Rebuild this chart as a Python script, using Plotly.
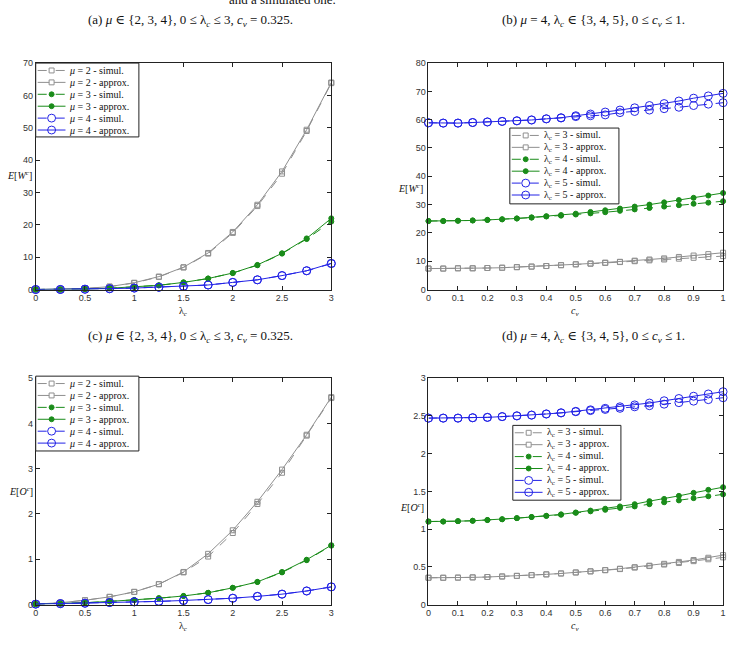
import plotly.graph_objects as go

W, H = 734, 645

# ---------------- data ----------------
lam = [0, 0.25, 0.5, 0.75, 1, 1.25, 1.5, 1.75, 2, 2.25, 2.5, 2.75, 3]
cv = [0, 0.05, 0.1, 0.15, 0.2, 0.25, 0.3, 0.35, 0.4, 0.45, 0.5,
      0.55, 0.6, 0.65, 0.7, 0.75, 0.8, 0.85, 0.9, 0.95, 1]

# (a) E[W^c] vs lambda_c
a_mu2_sim = [0, 0.05, 0.3, 0.9, 2.0, 3.9, 6.8, 11.1, 17.5, 25.8, 35.8, 49.0, 63.8]
a_mu2_app = [0, 0.05, 0.3, 0.9, 2.1, 4.0, 6.9, 11.3, 17.8, 26.2, 36.5, 49.4, 64.0]
a_mu3_sim = [0, 0.02, 0.15, 0.4, 0.8, 1.3, 2.2, 3.4, 5.1, 7.5, 11.1, 15.6, 21.0]
a_mu3_app = [0, 0.02, 0.15, 0.4, 0.8, 1.3, 2.2, 3.4, 5.1, 7.6, 11.2, 15.8, 22.0]
a_mu4_sim = [0, 0.02, 0.1, 0.25, 0.45, 0.7, 1.0, 1.4, 2.2, 3.0, 4.3, 5.8, 8.0]
a_mu4_app = [0, 0.02, 0.1, 0.25, 0.45, 0.7, 1.0, 1.4, 2.2, 3.0, 4.3, 5.8, 8.1]

# (b) E[W^c] vs c_v
b_l3_sim = [7.4, 7.4, 7.5, 7.5, 7.6, 7.7, 7.9, 8.1, 8.3, 8.6, 8.9,
            9.1, 9.4, 9.7, 10.0, 10.3, 10.6, 10.9, 11.2, 11.5, 11.8]
b_l3_app = [7.4, 7.4, 7.5, 7.5, 7.6, 7.7, 7.9, 8.1, 8.3, 8.6, 8.9,
            9.2, 9.5, 9.8, 10.2, 10.6, 11.0, 11.5, 12.0, 12.5, 13.0]
b_l4_sim = [24.2, 24.2, 24.3, 24.4, 24.6, 24.8, 25.1, 25.4, 25.8, 26.1, 26.5,
            26.9, 27.3, 27.8, 28.3, 28.8, 29.3, 29.8, 30.3, 30.7, 31.2]
b_l4_app = [24.2, 24.2, 24.3, 24.4, 24.6, 24.8, 25.1, 25.5, 25.9, 26.3, 26.8,
            27.4, 28.0, 28.6, 29.3, 30.0, 30.8, 31.6, 32.4, 33.2, 34.1]
b_l5_sim = [58.9, 58.8, 58.8, 59.0, 59.2, 59.4, 59.6, 59.9, 60.3, 60.6, 61.1,
            61.4, 61.7, 62.5, 62.9, 63.4, 63.9, 64.4, 65.0, 65.5, 66.0]
b_l5_app = [58.9, 58.8, 58.8, 59.0, 59.2, 59.4, 59.6, 59.9, 60.3, 60.7, 61.4,
            62.0, 62.7, 63.4, 64.2, 65.0, 65.7, 66.6, 67.6, 68.4, 69.3]

# (c) E[O^c] vs lambda_c
c_mu2_sim = [0.01, 0.04, 0.095, 0.17, 0.28, 0.45, 0.71, 1.06, 1.58, 2.22, 2.91, 3.73, 4.56]
c_mu2_app = [0.01, 0.04, 0.095, 0.17, 0.28, 0.45, 0.72, 1.12, 1.64, 2.27, 2.98, 3.75, 4.58]
c_mu3_sim = [0.01, 0.02, 0.04, 0.07, 0.10, 0.14, 0.19, 0.26, 0.37, 0.50, 0.71, 0.98, 1.30]
c_mu3_app = [0.01, 0.02, 0.04, 0.07, 0.10, 0.14, 0.19, 0.26, 0.37, 0.50, 0.72, 0.99, 1.31]
c_mu4_sim = [0.01, 0.02, 0.03, 0.045, 0.06, 0.07, 0.09, 0.11, 0.14, 0.18, 0.23, 0.30, 0.39]
c_mu4_app = [0.01, 0.02, 0.03, 0.045, 0.06, 0.07, 0.09, 0.11, 0.14, 0.18, 0.23, 0.30, 0.39]

# (d) E[O^c] vs c_v
d_l3_sim = [0.355, 0.355, 0.357, 0.36, 0.365, 0.372, 0.38, 0.39, 0.40, 0.412, 0.425,
            0.44, 0.455, 0.47, 0.49, 0.51, 0.53, 0.55, 0.575, 0.60, 0.625]
d_l3_app = [0.355, 0.355, 0.357, 0.36, 0.365, 0.372, 0.38, 0.39, 0.40, 0.412, 0.425,
            0.44, 0.457, 0.475, 0.495, 0.515, 0.54, 0.565, 0.59, 0.62, 0.655]
d_l4_sim = [1.10, 1.10, 1.105, 1.11, 1.12, 1.13, 1.145, 1.16, 1.175, 1.19, 1.215,
            1.235, 1.255, 1.28, 1.30, 1.33, 1.355, 1.38, 1.41, 1.435, 1.46]
d_l4_app = [1.10, 1.10, 1.105, 1.11, 1.12, 1.13, 1.145, 1.16, 1.175, 1.195, 1.22,
            1.245, 1.27, 1.30, 1.33, 1.37, 1.40, 1.44, 1.48, 1.52, 1.555]
d_l5_sim = [2.47, 2.47, 2.47, 2.475, 2.48, 2.49, 2.50, 2.51, 2.525, 2.54, 2.555,
            2.57, 2.585, 2.60, 2.62, 2.635, 2.655, 2.675, 2.695, 2.715, 2.74]
d_l5_app = [2.47, 2.47, 2.47, 2.475, 2.48, 2.49, 2.50, 2.51, 2.525, 2.54, 2.56,
            2.58, 2.60, 2.62, 2.645, 2.67, 2.70, 2.73, 2.76, 2.79, 2.82]

leg_a = ["<i>μ</i> = 2 - simul.", "<i>μ</i> = 2 - approx.", "<i>μ</i> = 3 - simul.",
         "<i>μ</i> = 3 - approx.", "<i>μ</i> = 4 - simul.", "<i>μ</i> = 4 - approx."]
leg_b = ["λ<sub>c</sub> = 3 - simul.", "λ<sub>c</sub> = 3 - approx.", "λ<sub>c</sub> = 4 - simul.",
         "λ<sub>c</sub> = 4 - approx.", "λ<sub>c</sub> = 5 - simul.", "λ<sub>c</sub> = 5 - approx."]

# ---------------- styles ----------------
GRAY = "#8f8f8f"
GREEN = "#1a8c1a"
BLUE = "#2323e6"
STY = [
    (GRAY, "dash", "square-open", 5),
    (GRAY, "solid", "square-open", 5),
    (GREEN, "dash", "circle", 5),
    (GREEN, "solid", "circle", 5),
    (BLUE, "dash", "circle-open", 8),
    (BLUE, "solid", "circle-open", 8),
]

def X(px):
    return px / W

def Y(py):
    return 1 - py / H

fig = go.Figure()

panels = [
    ("x", "y", lam, [a_mu2_sim, a_mu2_app, a_mu3_sim, a_mu3_app, a_mu4_sim, a_mu4_app]),
    ("x2", "y2", cv, [b_l3_sim, b_l3_app, b_l4_sim, b_l4_app, b_l5_sim, b_l5_app]),
    ("x3", "y3", lam, [c_mu2_sim, c_mu2_app, c_mu3_sim, c_mu3_app, c_mu4_sim, c_mu4_app]),
    ("x4", "y4", cv, [d_l3_sim, d_l3_app, d_l4_sim, d_l4_app, d_l5_sim, d_l5_app]),
]
for xa, ya, xs, series in panels:
    for (col, dash, sym, sz), ys in zip(STY, series):
        fig.add_trace(go.Scatter(
            x=xs, y=ys, xaxis=xa, yaxis=ya, mode="lines+markers",
            line=dict(color=col, width=1, dash=dash),
            marker=dict(symbol=sym, size=sz, color=col, line=dict(color=col, width=1)),
            cliponaxis=False, showlegend=False, hoverinfo="skip"))

tickfont = dict(family="Liberation Sans, Arial", size=9, color="#333")
def ax(domain, rng, dtick):
    return dict(domain=domain, range=rng, dtick=dtick, tick0=0, showgrid=False, zeroline=False,
                showline=True, linecolor="#222", linewidth=1, mirror="ticks",
                ticks="inside", ticklen=4, tickcolor="#222", tickfont=tickfont)

xa_l = [X(33), X(331)]
xa_r = [X(429), X(726)]
ya_t = [Y(289), Y(59)]
ya_b = [Y(609), Y(379)]

fig.update_layout(
    width=W, height=H, margin=dict(l=0, r=0, t=0, b=0),
    paper_bgcolor="white", plot_bgcolor="white",
    xaxis=dict(**ax(xa_l, [0, 3], 0.5), anchor="y"),
    yaxis=dict(**ax(ya_t, [0, 70], 10), anchor="x"),
    xaxis2=dict(**ax(xa_r, [0, 1], 0.1), anchor="y2"),
    yaxis2=dict(**ax(ya_t, [0, 80], 10), anchor="x2"),
    xaxis3=dict(**ax(xa_l, [0, 3], 0.5), anchor="y3"),
    yaxis3=dict(**ax(ya_b, [0, 5], 1), anchor="x3"),
    xaxis4=dict(**ax(xa_r, [0, 1], 0.1), anchor="y4"),
    yaxis4=dict(**ax(ya_b, [0, 3], 0.5), anchor="x4"),
)

SERIF = "Liberation Serif, DejaVu Serif, serif"
anns = []
shapes = []

def text(px, py, s, size=10, anchor="center"):
    anns.append(dict(x=X(px), y=Y(py), xref="paper", yref="paper", text=s, showarrow=False,
                     xanchor=anchor, yanchor="middle",
                     font=dict(family=SERIF, size=size, color="#111")))

# truncated caption line at top
text(282, -6, "and a simulated one.", 13)

# titles
text(189, 16, "(a) <i>μ</i> ∈ {2, 3, 4}, 0 ≤ λ<sub><i>c</i></sub> ≤ 3, <i>c<sub>v</sub></i> = 0.325.", 13)
text(595, 16, "(b) <i>μ</i> = 4, λ<sub><i>c</i></sub> ∈ {3, 4, 5}, 0 ≤ <i>c<sub>v</sub></i> ≤ 1.", 13)
text(189, 337, "(c) <i>μ</i> ∈ {2, 3, 4}, 0 ≤ λ<sub><i>c</i></sub> ≤ 3, <i>c<sub>v</sub></i> = 0.325.", 13)
text(595, 337, "(d) <i>μ</i> = 4, λ<sub><i>c</i></sub> ∈ {3, 4, 5}, 0 ≤ <i>c<sub>v</sub></i> ≤ 1.", 13)

# axis titles
text(17, 173, "<i>E</i>[<i>W<sup>c</sup></i>]", 10)
text(411, 186, "<i>E</i>[<i>W<sup>c</sup></i>]", 10)
text(18, 494, "<i>E</i>[<i>O<sup>c</sup></i>]", 10)
text(412, 510, "<i>E</i>[<i>O<sup>c</sup></i>]", 10)
text(182, 311, "λ<sub><i>c</i></sub>", 10)
text(577, 311, "<i>c<sub>v</sub></i>", 10)
text(182, 631, "λ<sub><i>c</i></sub>", 10)
text(577, 631, "<i>c<sub>v</sub></i>", 10)

def legend(x0, y0, w, h, labels):
    shapes.append(dict(type="rect", xref="paper", yref="paper", x0=X(x0), x1=X(x0 + w),
                       y0=Y(y0), y1=Y(y0 + h), line=dict(color="#222", width=1),
                       fillcolor="white", layer="above"))
    for i, ((col, dash, sym, sz), lab) in enumerate(zip(STY, labels)):
        yc = y0 + 7.5 + 12.1 * i
        shapes.append(dict(type="line", xref="paper", yref="paper", x0=X(x0 + 2), x1=X(x0 + 30),
                           y0=Y(yc), y1=Y(yc), line=dict(color=col, width=1, dash="dash" if dash == "dash" else "solid")))
        mx = x0 + 16
        r = sz / 2
        if sym == "square-open":
            shapes.append(dict(type="rect", xref="paper", yref="paper", x0=X(mx - r), x1=X(mx + r),
                               y0=Y(yc - r), y1=Y(yc + r), line=dict(color=col, width=1), fillcolor="white"))
        elif sym == "circle":
            shapes.append(dict(type="circle", xref="paper", yref="paper", x0=X(mx - r), x1=X(mx + r),
                               y0=Y(yc - r), y1=Y(yc + r), line=dict(color=col, width=1), fillcolor=col))
        else:
            shapes.append(dict(type="circle", xref="paper", yref="paper", x0=X(mx - r), x1=X(mx + r),
                               y0=Y(yc - r), y1=Y(yc + r), line=dict(color=col, width=1), fillcolor="rgba(0,0,0,0)"))
        text(x0 + 32, yc, lab, 10, "left")

legend(33, 59, 104, 75, leg_a)
legend(511, 125, 110, 77, leg_b)
legend(33, 377, 104, 76, leg_a)
legend(514, 427, 109, 76, leg_b)

fig.update_layout(annotations=anns, shapes=shapes)
fig.write_html("out.html")
